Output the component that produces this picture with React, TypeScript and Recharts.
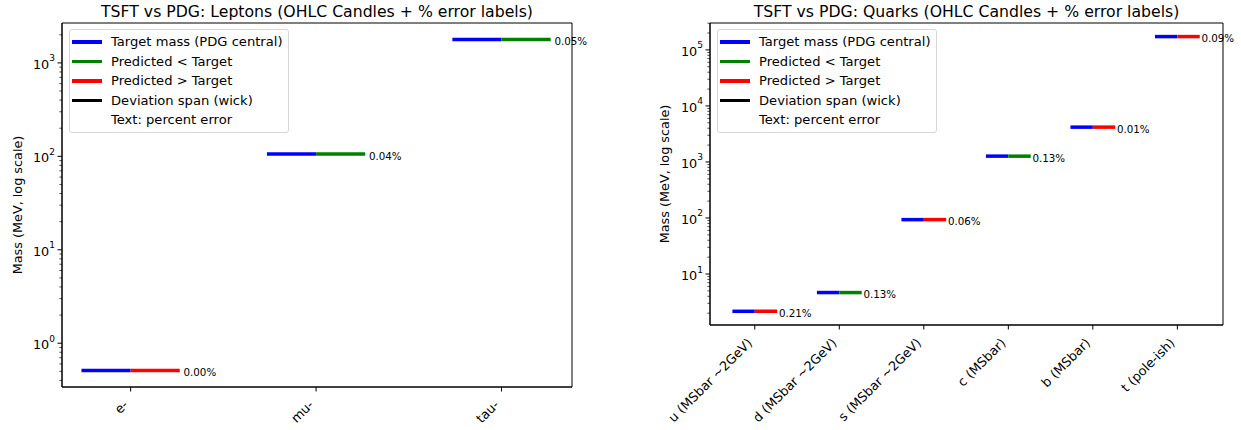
import React from 'react';
import { ComposedChart, XAxis, YAxis, Scatter, ReferenceLine, ReferenceArea, Legend, Label } from 'recharts';

const FONT = '"DejaVu Sans", sans-serif';

// leptons
const leptonNames = ['e-', 'mu-', 'tau-'];
const leptonTarget = [0.51099895, 105.6583755, 1776.86];
const leptonPred = [0.511, 105.616, 1775.97];
const leptonErr = ['0.00%', '0.04%', '0.05%'];
const leptonMajorTicks = [1, 10, 100, 1000];

// quarks
const quarkNames = ['u (MSbar ~2GeV)', 'd (MSbar ~2GeV)', 's (MSbar ~2GeV)', 'c (MSbar)', 'b (MSbar)', 't (pole-ish)'];
const quarkTarget = [2.16, 4.67, 93.4, 1270, 4180, 172690];
const quarkPred = [2.1645, 4.664, 93.456, 1268.35, 4180.4, 172845];
const quarkErr = ['0.21%', '0.13%', '0.06%', '0.13%', '0.01%', '0.09%'];
const quarkMajorTicks = [10, 100, 1000, 10000, 100000];

const legendItems = [
  { label: 'Target mass (PDG central)', color: '#0000ff' },
  { label: 'Predicted < Target', color: '#008000' },
  { label: 'Predicted > Target', color: '#ff0000' },
  { label: 'Deviation span (wick)', color: '#000000' },
  { label: 'Text: percent error', color: 'transparent' },
];

const HALF = 0.265;
const TEXT_OFFSET = 0.285;

function logTicks(domain: number[]) {
  const out: number[] = [];
  const lo = Math.floor(Math.log10(domain[0]));
  const hi = Math.ceil(Math.log10(domain[1]));
  for (let e = lo; e <= hi; e++) {
    for (let m = 1; m < 10; m++) {
      const v = m * Math.pow(10, e);
      if (v >= domain[0] && v <= domain[1]) out.push(v);
    }
  }
  return out;
}

const YTick = (props: any) => {
  const { x, y, payload, majors } = props;
  const v = payload.value;
  const isMajor = majors.some((m: number) => Math.abs(m - v) < 1e-9 * m);
  const e = Math.round(Math.log10(v));
  return (
    <g>
      <line x1={x} x2={x - (isMajor ? 4.5 : 2.6)} y1={y} y2={y} stroke="#000" strokeWidth={isMajor ? 1 : 0.7} />
      {isMajor && (
        <text x={x - 7} y={y + 1.5} textAnchor="end" dominantBaseline="central" fontSize={12.8} fontFamily={FONT} fill="#000">
          10<tspan dy={-6} fontSize={9}>{e}</tspan>
        </text>
      )}
    </g>
  );
};

const XTick = (props: any) => {
  const { x, y, payload, names } = props;
  const tx = x - 5;
  const ty = y + 9;
  return (
    <text x={tx} y={ty} transform={`rotate(-45 ${tx} ${ty})`} textAnchor="end" dominantBaseline="central"
      fontSize={12.8} fontFamily={FONT} fill="#000">
      {names[payload.value]}
    </text>
  );
};

const LegendBox = () => (
  <div style={{
    border: '1px solid #d6d6d6', borderRadius: 3, background: 'rgba(255,255,255,0.8)',
    padding: '2px 5px 2px 2px', fontFamily: FONT, fontSize: 13.1, color: '#000', whiteSpace: 'nowrap',
  }}>
    {legendItems.map((it) => (
      <div key={it.label} style={{ display: 'flex', alignItems: 'center', height: 19.5 }}>
        <div style={{ width: 30, height: 3.5, background: it.color, marginRight: 9 }} />
        <span>{it.label}</span>
      </div>
    ))}
  </div>
);

interface PanelProps {
  left: number;
  width: number;
  title: string;
  names: string[];
  target: number[];
  pred: number[];
  err: string[];
  majors: number[];
  yDomain: number[];
  xDomain: number[];
  margin: { top: number; right: number; bottom: number; left: number };
  xAxisHeight: number;
  labelX: number;
  legendLeft: number;
}

const Y_AXIS_WIDTH = 48;

function CandlePanel(p: PanelProps) {
  const data = p.names.map((n, i) => ({ x: i + TEXT_OFFSET, y: p.pred[i], text: p.err[i] }));
  const ticks = logTicks(p.yDomain);
  const plotLeft = p.margin.left + Y_AXIS_WIDTH;
  const plotWidth = p.width - plotLeft - p.margin.right;
  return (
    <div style={{ position: 'absolute', left: p.left, top: 0, width: p.width, height: 430 }}>
      <div style={{
        position: 'absolute', top: 1.5, left: plotLeft - 100, width: plotWidth + 200, textAlign: 'center',
        fontSize: 15.7, fontFamily: FONT, color: '#000', whiteSpace: 'nowrap',
      }}>{p.title}</div>
      <ComposedChart width={p.width} height={430} data={data} margin={p.margin}>
        <XAxis type="number" dataKey="x" domain={p.xDomain} ticks={p.names.map((_, i) => i)}
          interval={0} height={p.xAxisHeight} tickSize={4.5} stroke="#000" tick={<XTick names={p.names} />} />
        <YAxis type="number" dataKey="y" scale="log" domain={p.yDomain} ticks={ticks} interval={0}
          width={Y_AXIS_WIDTH} tickSize={0} tickMargin={0} tickLine={false} stroke="#000"
          tick={<YTick majors={p.majors} />}>
          <Label content={(lp: any) => {
            const vb = lp.viewBox || { y: 0, height: 0 };
            const cy = vb.y + vb.height / 2;
            return (
              <text x={p.labelX} y={cy} transform={`rotate(-90 ${p.labelX} ${cy})`} textAnchor="middle"
                dominantBaseline="central" fontSize={12.8} fontFamily={FONT} fill="#000">
                Mass (MeV, log scale)
              </text>
            );
          }} />
        </YAxis>
        <ReferenceArea x1={p.xDomain[0]} x2={p.xDomain[1]} y1={p.yDomain[0]} y2={p.yDomain[1]}
          fill="none" fillOpacity={0} stroke="#000" strokeWidth={1} ifOverflow="visible" />
        {p.names.map((n, i) => (
          <ReferenceLine key={`t-${n}`} segment={[{ x: i - HALF, y: p.target[i] }, { x: i, y: p.target[i] }]}
            stroke="#0000ff" strokeWidth={3.5} ifOverflow="visible" />
        ))}
        {p.names.map((n, i) => (
          <ReferenceLine key={`p-${n}`} segment={[{ x: i, y: p.pred[i] }, { x: i + HALF, y: p.pred[i] }]}
            stroke={p.pred[i] < p.target[i] ? '#008000' : '#ff0000'} strokeWidth={3.5} ifOverflow="visible" />
        ))}
        <Scatter dataKey="y" isAnimationActive={false} shape={(sp: any) => (
          <text x={sp.cx} y={sp.cy + 1.5} textAnchor="start" dominantBaseline="central" fontSize={10.3}
            fontFamily={FONT} fill="#000">{sp.payload.text}</text>
        )} />
        <Legend layout="vertical" align="center" verticalAlign="middle"
          wrapperStyle={{ left: p.legendLeft, top: 29, width: 'auto', height: 'auto' }} content={<LegendBox />} />
      </ComposedChart>
    </div>
  );
}

export default function App() {
  return (
    <div style={{ position: 'fixed', left: 0, top: 0, width: 1241, height: 430, background: '#fff', overflow: 'hidden' }}>
      <CandlePanel
        left={0} width={620}
        title="TSFT vs PDG: Leptons (OHLC Candles + % error labels)"
        names={leptonNames} target={leptonTarget} pred={leptonPred} err={leptonErr}
        majors={leptonMajorTicks}
        yDomain={[0.34, 2673]} xDomain={[-0.37, 2.38]}
        margin={{ top: 23, right: 48, bottom: 13, left: 14 }} xAxisHeight={30}
        labelX={17} legendLeft={69}
      />
      <CandlePanel
        left={620} width={621}
        title="TSFT vs PDG: Quarks (OHLC Candles + % error labels)"
        names={quarkNames} target={quarkTarget} pred={quarkPred} err={quarkErr}
        majors={quarkMajorTicks}
        yDomain={[1.23, 302000]} xDomain={[-0.53, 5.54]}
        margin={{ top: 23, right: 18, bottom: 5, left: 42 }} xAxisHeight={100}
        labelX={44} legendLeft={97}
      />
    </div>
  );
}
